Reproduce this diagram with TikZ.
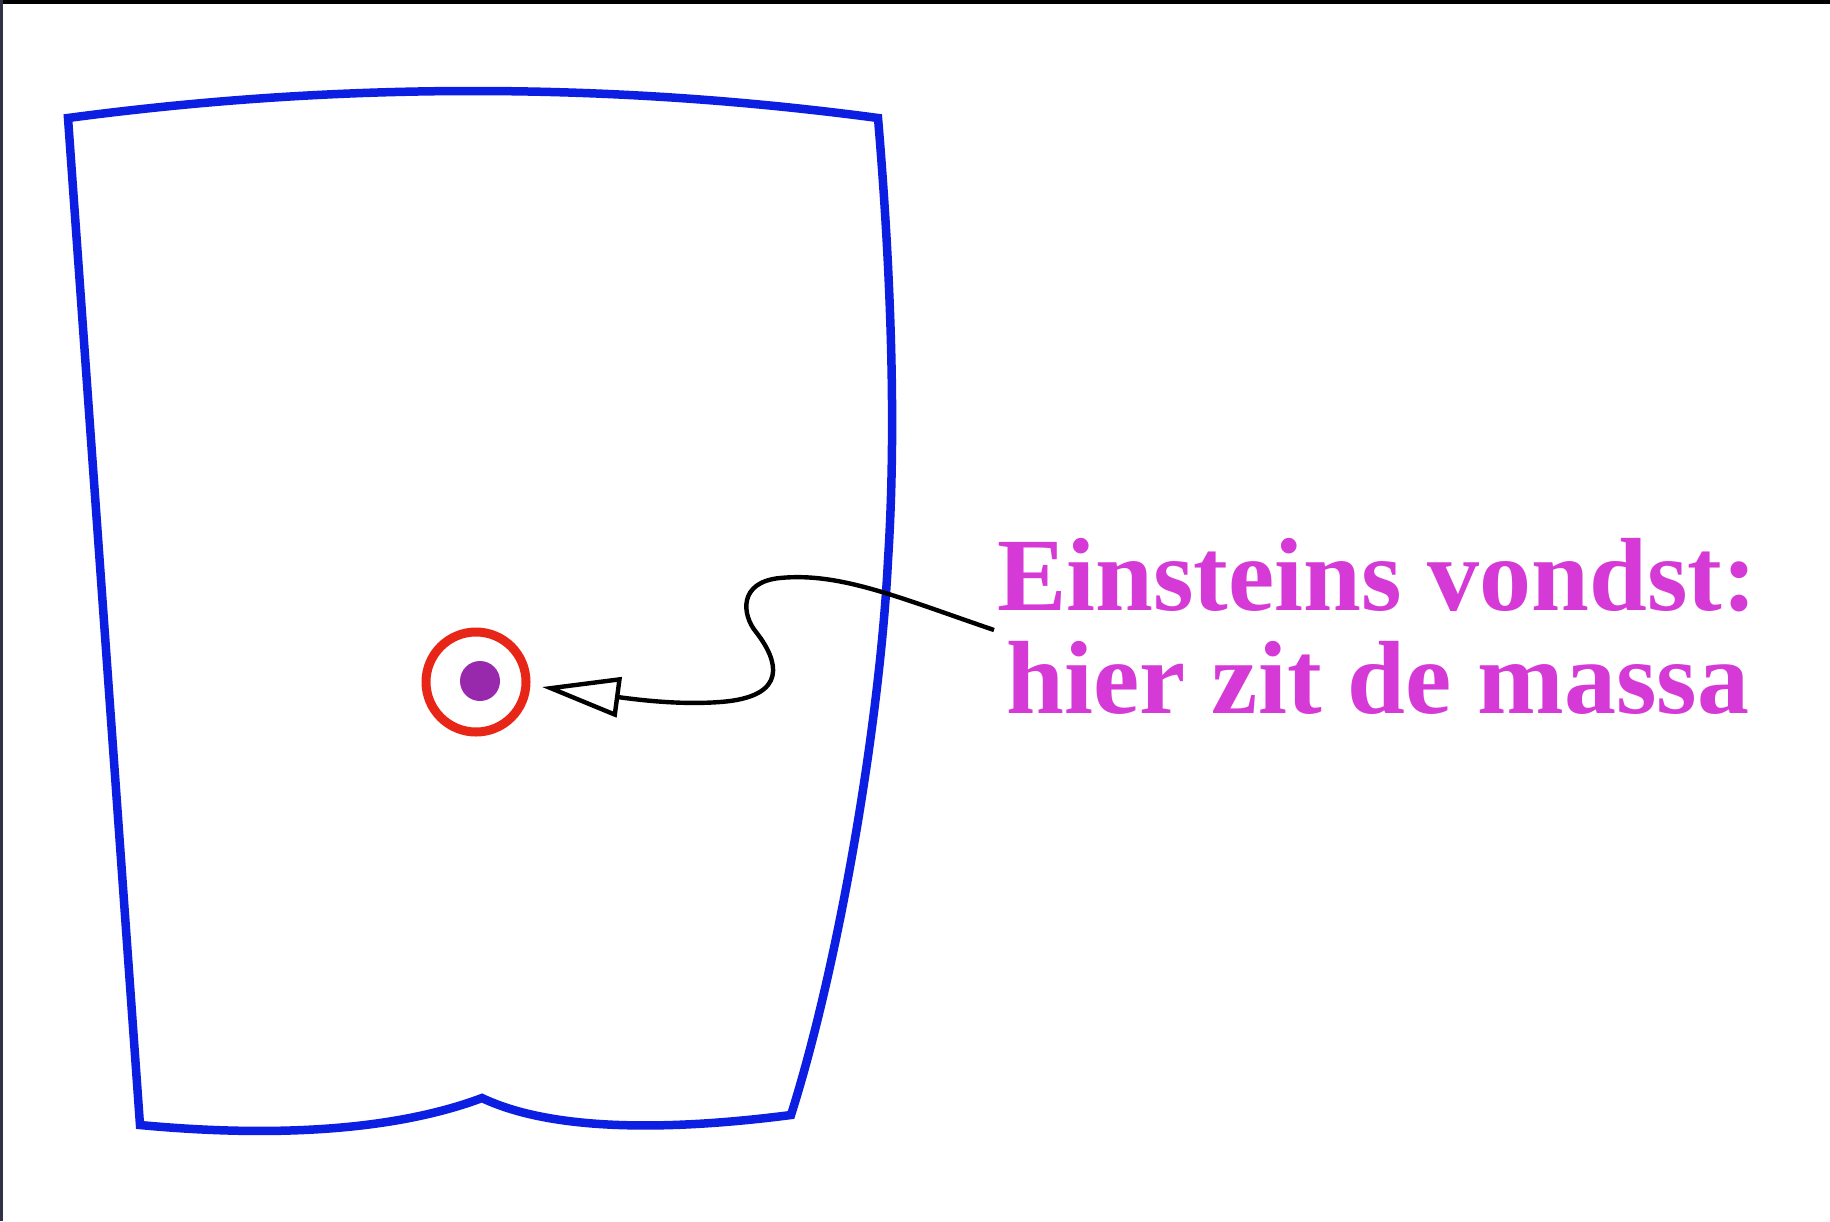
\documentclass[tikz,border=0pt]{standalone}
\usepackage{fontspec}
\setmainfont{Liberation Serif}
\usetikzlibrary{arrows.meta}
\definecolor{shapeblue}{RGB}{12,30,225}
\definecolor{ringred}{RGB}{232,38,24}
\definecolor{dotpurple}{RGB}{152,40,172}
\definecolor{textmag}{RGB}{214,58,214}
\definecolor{frameleft}{RGB}{50,50,70}
\tikzset{
  outline/.style={draw=shapeblue, line width=4.25pt, line join=miter},
  ringstyle/.style={circle, draw=ringred, line width=4.5pt, minimum size=50pt, inner sep=0pt},
  dotstyle/.style={circle, fill=dotpurple, minimum size=20pt, inner sep=0pt},
  labeltext/.style={text=textmag, font=\bfseries\fontsize{52}{52}\selectfont, inner sep=0pt, anchor=base},
  pointer/.style={draw=black, line width=2.2pt, -{Triangle[open, length=39pt, width=20pt]}}
}
\begin{document}
\begin{tikzpicture}[x=0.5pt,y=-0.5pt]
\fill[white] (0,0) rectangle (1830,1221);
\useasboundingbox (0,0) rectangle (1830,1221);
\fill[black] (0,0) rectangle (1830,3.5);
\fill[frameleft] (0,0) rectangle (2.5,1221);

% blue outline
\draw[outline] (68,118) .. controls (338,82) and (608,82) .. (878,118)
  .. controls (890,260) and (897,420) .. (888,560)
  .. controls (880,720) and (840,960) .. (791,1115)
  .. controls (690,1128) and (560,1135) .. (482,1098)
  .. controls (410,1125) and (300,1140) .. (140,1125)
  -- cycle;

% mass
\node[dotstyle] (dot) at (480,681) {};
\node[ringstyle] (ring) at (476,682) {};

% label
\node[labeltext] (line1) at (1377,610) {Einsteins vondst:};
\node[labeltext] (line2) at (1378,713) {hier zit de massa};
\coordinate (lab) at (994,630);

% pointer
\draw[pointer] (lab) .. controls (900,598) and (840,572) .. (780,578)
  .. controls (738,582) and (742,615) .. (756,632)
  .. controls (778,660) and (790,697) .. (720,702)
  .. controls (680,705) and (640,700) .. ([xshift=5.75pt,yshift=-2.5pt]ring.east);
\end{tikzpicture}
\end{document}
